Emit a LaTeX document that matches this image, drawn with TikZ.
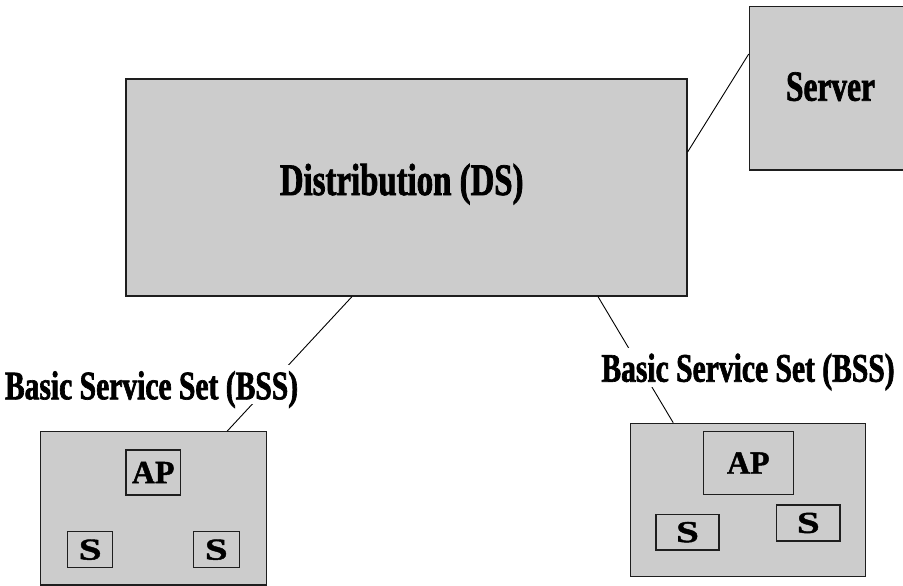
\documentclass[tikz,border=0pt]{standalone}
\usepackage{fontspec}
% condensed heading face, and two variants for the small unit boxes
\newfontfamily\lblfont{Liberation Serif}[FakeStretch=0.73,FakeBold=1.6]
\newfontfamily\apfont{Liberation Serif}[FakeStretch=0.98,FakeBold=1.4]
\newfontfamily\stafont{Liberation Serif}[FakeStretch=1.35,FakeBold=1.4]
\definecolor{boxgray}{RGB}{204,204,204}
\definecolor{edge}{RGB}{30,30,30}
\begin{document}
\begin{tikzpicture}[x=1pt,y=-1pt,
  panel/.style={draw=edge,fill=boxgray,line width=1.2pt,rectangle,inner sep=0pt},
  apbox/.style={panel,font=\apfont\bfseries\fontsize{32.5}{34}\selectfont},
  stbox/.style={panel,font=\stafont\bfseries\fontsize{30.5}{34}\selectfont},
  title/.style={font=\lblfont\bfseries\fontsize{#1}{#1}\selectfont,anchor=base,inner sep=0pt},
  tag/.style={font=\lblfont\bfseries\fontsize{40.5}{42}\selectfont,anchor=base,fill=white,
    text height=30pt,text depth=1pt,inner xsep=2pt,inner ysep=4pt},
  link/.style={draw=black,line width=0.9pt}]
\useasboundingbox (0,0) rectangle (903,586);
\clip (0,0) rectangle (903,586);

% distribution system and server
\node[panel,minimum width=561pt,minimum height=217pt] (ds) at (406.5,187.5) {};
\node[panel,minimum width=171pt,minimum height=163.3pt] (srv) at (834.8,88.35) {};
\node[title=45] (dslbl) at (401.7,195) {Distribution (DS)};
\node[title=43] (srvlbl) at (830.5,100.7) {Server};

% left basic service set
\node[panel,minimum width=226pt,minimum height=153.3pt] (bssL) at (153.7,508.4) {};
\node[apbox,minimum width=54.3pt,minimum height=45pt] (apL) at (153.2,472.5) {AP};
\node[stbox,minimum width=45pt,minimum height=36pt] (sL1) at (90.2,549.7) {S};
\node[stbox,minimum width=46pt,minimum height=36pt] (sL2) at (216.3,549.7) {S};

% right basic service set
\node[panel,minimum width=235pt,minimum height=153.4pt] (bssR) at (748.2,500) {};
\node[apbox,minimum width=90pt,minimum height=62.6pt] (apR) at (748.3,463) {AP};
\node[stbox,minimum width=63pt,minimum height=35.7pt] (sR1) at (687.5,532.2) {S};
\node[stbox,minimum width=63.3pt,minimum height=36pt] (sR2) at (808.3,523) {S};

% connections
\draw[link] ([yshift=35.5pt]ds.east) -- ([yshift=34.3pt]srv.west);
\draw[link] ([xshift=-54.5pt]ds.south) -- ([xshift=73.5pt]bssL.north);
\draw[link] ([xshift=191.5pt]ds.south) -- ([xshift=-75pt]bssR.north);

% set labels sit over the connections
\node[tag] (tagL) at (151.5,399.3) {Basic Service Set (BSS)};
\node[tag] (tagR) at (748,381.7) {Basic Service Set (BSS)};
\end{tikzpicture}
\end{document}
